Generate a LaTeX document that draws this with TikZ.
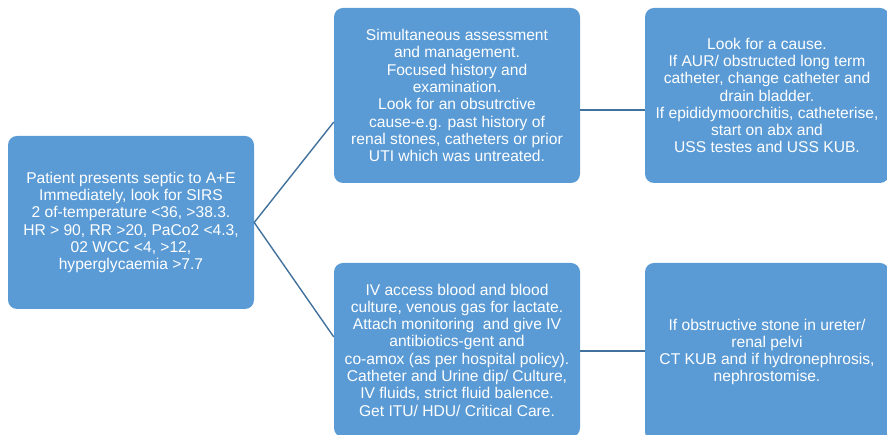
\documentclass[tikz,border=0pt]{standalone}
\usepackage{fontspec}
\setmainfont{Liberation Sans}
\definecolor{boxblue}{HTML}{5B9BD5}
\definecolor{lineblue}{HTML}{41719C}
\begin{document}
\begin{tikzpicture}[x=1pt,y=1pt,
  box/.style={draw=none,fill=boxblue,rounded corners=9pt,text=white,align=center,
    font=\fontsize{15.6}{17.3}\selectfont,inner sep=0pt},
  conn/.style={draw=lineblue,line width=1.4pt}]
\useasboundingbox (0,0) rectangle (887,435);
\clip (0,0) rectangle (887,435);
\node[box,minimum width=246pt,minimum height=173pt] (lb) at (131,212.5)
 {Patient presents septic to A+E\\Immediately, look for SIRS\\2 of-temperature <36, >38.3.\\HR > 90, RR >20, PaCo2 <4.3,\\02 WCC <4, >12,\\hyperglycaemia >7.7};
\node[box,minimum width=246pt,minimum height=175pt] (tm) at (457,339.5)
 {Simultaneous assessment\\and management.\\Focused history and\\examination.\\Look for an obsutrctive\\cause-e.g. past history of\\renal stones, catheters or prior\\UTI which was untreated.};
\node[box,minimum width=244pt,minimum height=175pt] (tr) at (767,339.5)
 {Look for a cause.\\If AUR/ obstructed long term\\catheter, change catheter and\\drain bladder.\\If epididymoorchitis, catheterise,\\start on abx and\\USS testes and USS KUB.};
\node[box,minimum width=246pt,minimum height=174pt] (bm) at (457,85)
 {IV access blood and blood\\culture, venous gas for lactate.\\Attach monitoring\ \ and give IV\\antibiotics-gent and\\co-amox (as per hospital policy).\\Catheter and Urine dip/ Culture,\\IV fluids, strict fluid balence.\\Get ITU/ HDU/ Critical Care.};
\node[box,minimum width=244pt,minimum height=178pt] (br) at (767,83)
 {If obstructive stone in ureter/\\renal pelvi\\CT KUB and if hydronephrosis,\\nephrostomise.};
\draw[conn] ([yshift=-26.5pt]tm.west) -- (lb.east) -- ([yshift=13pt]bm.west);
\draw[conn] ([yshift=-14.5pt]tm.east) -- ([yshift=-14.5pt]tm.east -| tr.west);
\draw[conn] ([yshift=-1pt]bm.east) -- ([yshift=-1pt]bm.east -| br.west);
\end{tikzpicture}
\end{document}
